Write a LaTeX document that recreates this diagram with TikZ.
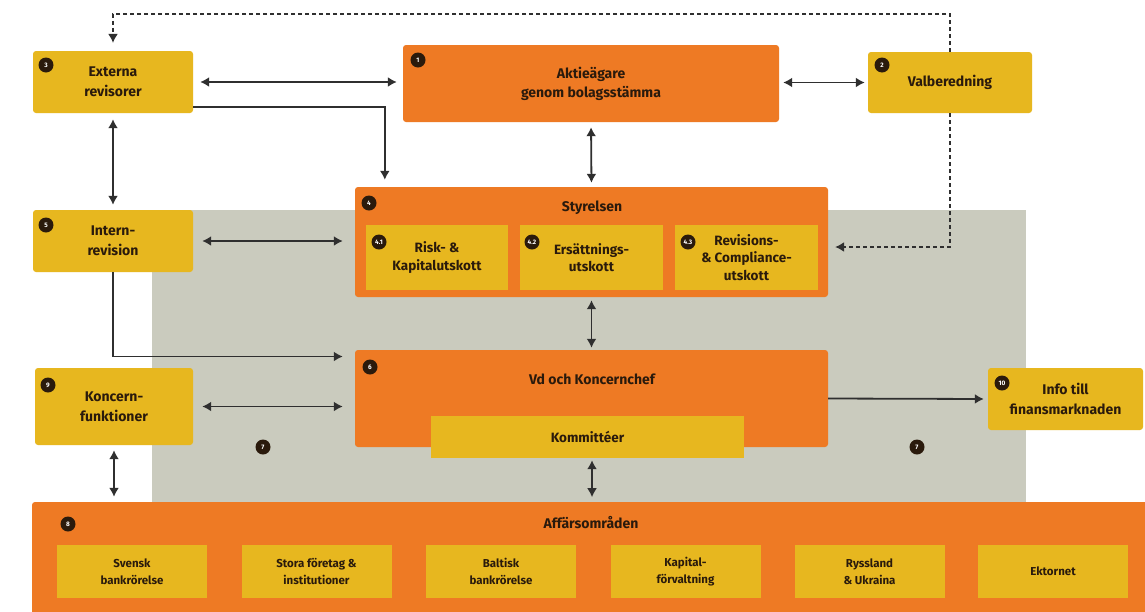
\documentclass[tikz,border=0pt]{standalone}
\usepackage{fontspec}
\setmainfont{Fira Sans}
\usetikzlibrary{arrows.meta}

\definecolor{orng}{HTML}{EE7A24}
\definecolor{ylw}{HTML}{E7B71F}
\definecolor{graybg}{HTML}{CACBBE}
\definecolor{ink}{HTML}{2A1A0C}
\definecolor{wire}{HTML}{2F2F2F}

\tikzset{
  obox/.style={fill=orng, rounded corners=3pt, inner sep=0pt, align=center,
               text=ink, font=\bfseries\fontsize{14}{19}\selectfont},
  ybox/.style={fill=ylw, rounded corners=3pt, inner sep=0pt, align=center,
               text=ink, font=\bfseries\fontsize{14}{20}\selectfont},
  subbox/.style={fill=ylw, inner sep=0pt, align=center,
               text=ink, font=\bfseries\fontsize{13.5}{17.5}\selectfont},
  unitbox/.style={fill=ylw, inner sep=0pt, align=center, minimum width=150pt,
               minimum height=53pt, text=ink, font=\bfseries\fontsize{11.5}{17}\selectfont},
  title/.style={text=ink, font=\bfseries\fontsize{14}{16}\selectfont, inner sep=0pt},
  badge/.style={circle, fill=ink, inner sep=0pt, minimum size=15pt, text=white,
               font=\bfseries\fontsize{6.5}{7}\selectfont},
  link/.style={draw=wire, line width=1.8pt, -{Latex[length=9pt,width=10pt]}},
  both/.style={draw=wire, line width=1.8pt, {Latex[length=9pt,width=10pt]}-{Latex[length=9pt,width=10pt]}},
  dashlink/.style={draw=wire, line width=1.4pt, dash pattern=on 4pt off 3pt,
               -{Latex[length=9pt,width=10pt]}},
}

\begin{document}
\begin{tikzpicture}[x=1pt, y=-1pt]
  \clip (0,0) rectangle (1145,611);
  \fill[white] (0,0) rectangle (1145,611);

  % operating area behind the board and management
  \fill[graybg] (152,210) rectangle (1026,502);

  % governing bodies
  \node[ybox, minimum width=160pt, minimum height=62pt] (ext) at (113,82) {Externa\\revisorer};
  \node[obox, minimum width=376pt, minimum height=77pt] (aktie) at (591,83.5) {Aktieägare\\genom bolagsstämma};
  \node[ybox, minimum width=164pt, minimum height=61pt] (valb) at (950,82.5) {Valberedning};

  \node[obox, minimum width=473pt, minimum height=110pt] (styr) at (591.5,242) {};
  \node[title] (styrt) at (592,208) {Styrelsen};
  \node[subbox, minimum width=142pt, minimum height=65pt] (s41) at (437,257.5) {Risk- \&\\Kapitalutskott};
  \node[subbox, minimum width=143pt, minimum height=65pt] (s42) at (591.5,257.5) {Ersättnings-\\utskott};
  \node[subbox, minimum width=143pt, minimum height=65pt] (s43) at (746.5,257.5) {Revisions-\\\& Compliance-\\utskott};

  \node[ybox, minimum width=160pt, minimum height=62pt] (intern) at (113,241) {Intern-\\revision};

  \node[obox, minimum width=473pt, minimum height=97pt] (vd) at (591.5,398.5) {};
  \node[title] (vdt) at (592,379) {Vd och Koncernchef};
  \node[subbox, minimum width=313pt, minimum height=42pt] (komm) at (587.5,437) {Kommittéer};

  \node[ybox, minimum width=158pt, minimum height=77pt] (konc) at (114,406.5) {Koncern-\\funktioner};
  \node[ybox, minimum width=155pt, minimum height=62pt] (info) at (1065.5,399) {Info till\\finansmarknaden};

  % business areas
  \node[obox, minimum width=1118pt, minimum height=118pt] (aff) at (591,561) {};
  \node[title] (afft) at (591,523) {Affärsområden};
  \node[unitbox] (u1) at (132,571.5) {Svensk\\bankrörelse};
  \node[unitbox] (u2) at (316.5,571.5) {Stora företag \&\\institutioner};
  \node[unitbox] (u3) at (501,571.5) {Baltisk\\bankrörelse};
  \node[unitbox] (u4) at (685.5,571.5) {Kapital-\\förvaltning};
  \node[unitbox] (u5) at (869.5,571.5) {Ryssland\\\& Ukraina};
  \node[unitbox] (u6) at (1053,571.5) {Ektornet};

  % numbered badges
  \node[badge] (b3) at (46,65) {3};
  \node[badge] (b1) at (418,60) {1};
  \node[badge] (b2) at (882,65) {2};
  \node[badge] (b4) at (369,203) {4};
  \node[badge] (b41) at (379,242) {4.1};
  \node[badge] (b42) at (532,242) {4.2};
  \node[badge] (b43) at (688,242) {4.3};
  \node[badge] (b5) at (46,225) {5};
  \node[badge] (b6) at (370,367) {6};
  \node[badge] (b9) at (48,385) {9};
  \node[badge] (b10) at (1002,383) {10};
  \node[badge] (b8) at (68,524) {8};
  \node[badge] (b7a) at (263,447) {7};
  \node[badge] (b7b) at (917,447) {7};

  % connectors
  \draw[both, shorten <=7pt, shorten >=6pt] (ext.east) -- (aktie.west |- ext.east);
  \draw[both, shorten <=4pt, shorten >=3pt] (aktie.east |- valb.west) -- (valb.west);
  \draw[link, shorten >=7pt] ([yshift=-25pt]ext.east) -| ([xshift=30pt]styr.north west);
  \draw[both, shorten <=5pt, shorten >=4pt] (aktie.south) -- (styr.north);
  \draw[both, shorten <=6pt, shorten >=5pt] (ext.south) -- (intern.north);
  \draw[both, shorten <=9pt, shorten >=12pt] (intern.east) -- (styr.west |- intern.east);
  \draw[link, shorten >=12pt] (intern.south) |- ([yshift=42pt]vd.west);
  \draw[both, shorten <=3pt, shorten >=2pt] (styr.south) -- (vd.north);
  \draw[both, shorten <=9pt, shorten >=12pt] (konc.east) -- (vd.west |- konc.east);
  \draw[link, shorten >=4pt] (vd.east) -- (info.west);
  \draw[both, shorten <=5pt, shorten >=5pt] (konc.south) -- (aff.north -| konc.south);
  \draw[both, shorten <=2pt, shorten >=5pt] ([xshift=4.5pt]komm.south) -- ++(0,44);

  % nomination committee links
  \draw[dashlink, shorten >=8pt] (valb.north) -- ++(0,-38) -| (ext.north);
  \draw[dashlink, shorten >=7pt] (valb.south) |- ([yshift=-5pt]styr.east);
\end{tikzpicture}
\end{document}
